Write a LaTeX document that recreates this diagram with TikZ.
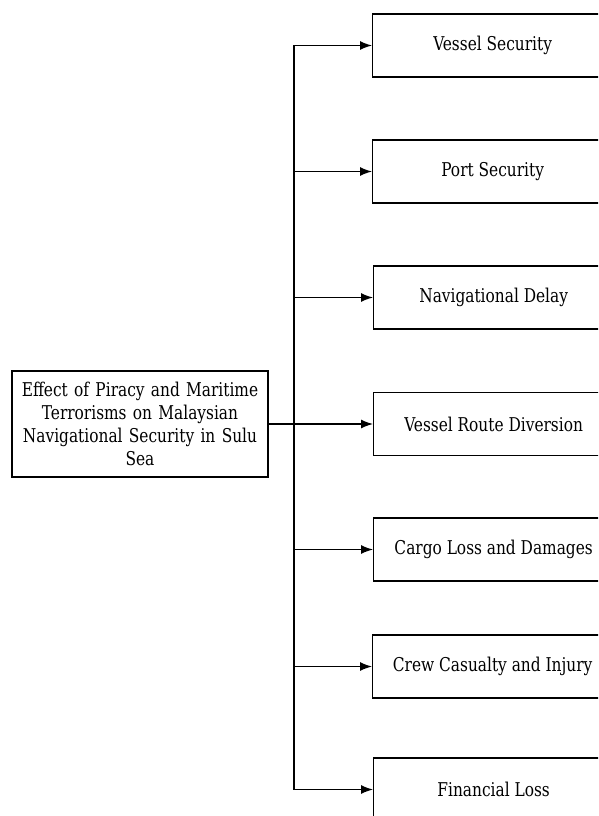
\documentclass[tikz,border=0pt]{standalone}
\usepackage{fontspec}
\setmainfont[FakeStretch=0.9]{DejaVu Serif Condensed}
\usetikzlibrary{arrows.meta, positioning}
\tikzstyle{arrow} = [line width=1.3pt,-{Latex[length=12pt,width=9pt]}]
\tikzstyle{trunk} = [line width=1.3pt]
\tikzstyle{effect} = [draw, line width=1.3pt, minimum width=240pt, minimum height=63pt, anchor=west, inner sep=0pt, font=\fontsize{19}{22}\selectfont]
\tikzstyle{topic} = [draw, line width=1.3pt, minimum width=256pt, minimum height=106pt, text width=248pt, align=center, inner sep=0pt, font=\fontsize{19}{23}\selectfont]

\begin{document}
\begin{tikzpicture}[x=1pt,y=-1pt]
    \useasboundingbox (0,0) rectangle (598,816);
    \clip (0,0) rectangle (598,816);

    % Main topic
    \node[topic] (topic) at (140,424) {Effect of Piracy and Maritime\\Terrorisms on Malaysian\\Navigational Security in Sulu\\Sea};

    % Effects
    \node[effect] (vessel) at (372,45.5) {Vessel Security};
    \node[effect] (port) at (372,171.5) {Port Security};
    \node[effect] (delay) at (373,297.5) {Navigational Delay};
    \node[effect] (route) at (373,424) {Vessel Route Diversion};
    \node[effect] (cargo) at (373,549.5) {Cargo Loss and Damages};
    \node[effect] (crew) at (372,666.5) {Crew Casualty and Injury};
    \node[effect] (loss) at (373,789.5) {Financial Loss};

    % Trunk line
    \coordinate (top) at (294,45.5);
    \coordinate (bottom) at (294,789.5);
    \draw[trunk] (top) -- (bottom);
    \draw[trunk] (topic.east) -- (topic.east -| top);

    % Arrows
    \foreach \n in {vessel,port,delay,route,cargo,crew,loss}
        \draw[arrow] (\n.west -| top) -- (\n.west);
\end{tikzpicture}
\end{document}
